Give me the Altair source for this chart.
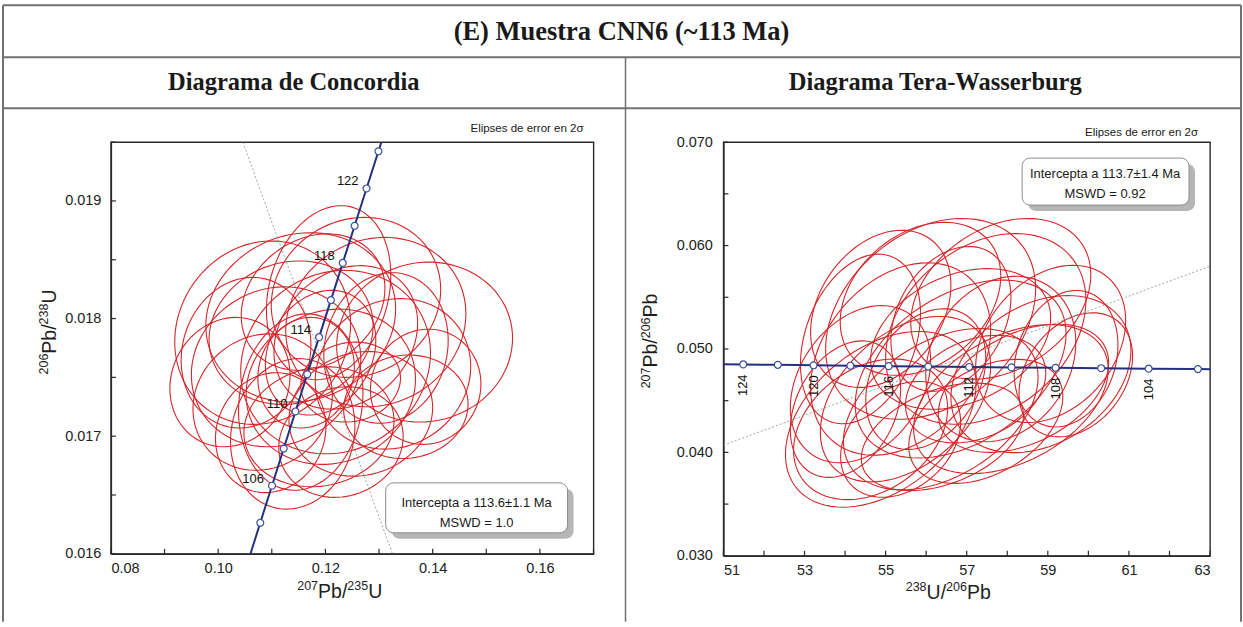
import altair as alt
import numpy as np
import pandas as pd

# ---------------- Concordia (Wetherill) panel ----------------
conc_age = [102, 104, 106, 108, 110, 112, 114, 116, 118, 120, 122, 124, 126]
conc_x = [0.105674, 0.107854, 0.110038, 0.112226, 0.114419, 0.116617, 0.118818,
          0.121024, 0.123234, 0.125449, 0.127668, 0.129891, 0.132119]
conc_y = [0.015949, 0.016264, 0.016579, 0.016895, 0.017210, 0.017526, 0.017842,
          0.018157, 0.018473, 0.018789, 0.019106, 0.019422, 0.019738]
conc_marker_ages = [104, 106, 108, 110, 112, 114, 116, 118, 120, 122, 124]
conc_label_ages = [106, 110, 114, 118, 122]
disc_L_x = [0.1046, 0.1325]
disc_L_y = [0.0195, 0.0160]
ticks_xL = [0.08, 0.09, 0.10, 0.11, 0.12, 0.13, 0.14, 0.15, 0.16, 0.17]
ticks_yL = [0.016, 0.0165, 0.017, 0.0175, 0.018, 0.0185, 0.019, 0.0195]

# error ellipses (centre, 2-sigma half widths, correlation)
L_cx = [0.1083, 0.1385, 0.1206, 0.1139, 0.1154, 0.1294, 0.1238, 0.1108, 0.1326, 0.1210,
        0.1083, 0.1266, 0.1191, 0.1154, 0.1313, 0.1177, 0.1257, 0.1052, 0.1229, 0.1350,
        0.1188, 0.1136, 0.1098, 0.1387, 0.1219, 0.1164, 0.1247, 0.1022]
L_cy = [0.01788, 0.01780, 0.01822, 0.01702, 0.01801, 0.01797, 0.01784, 0.01759, 0.01753, 0.01742,
        0.01729, 0.01719, 0.01771, 0.01729, 0.01775, 0.01814, 0.01818, 0.01771, 0.01695, 0.01725,
        0.01708, 0.01788, 0.01703, 0.01742, 0.01763, 0.01754, 0.01746, 0.01746]
L_sx = [0.0164, 0.0164, 0.0116, 0.0116, 0.0177, 0.0168, 0.0134, 0.0158, 0.0145, 0.0158,
        0.0130, 0.0134, 0.0103, 0.0116, 0.0116, 0.0134, 0.0158, 0.0121, 0.0116, 0.0116,
        0.0140, 0.0153, 0.0103, 0.0103, 0.0177, 0.0090, 0.0093, 0.0112]
L_sy = [0.00078, 0.00068, 0.00074, 0.00064, 0.00072, 0.00072, 0.00061, 0.00068, 0.00064, 0.00066,
        0.00058, 0.00053, 0.00053, 0.00075, 0.00064, 0.00058, 0.00068, 0.00064, 0.00047, 0.00044,
        0.00051, 0.00061, 0.00051, 0.00049, 0.00078, 0.00047, 0.00034, 0.00055]
L_rho = [0.10, 0.05, 0.20, 0.10, 0.10, 0.10, 0.20, 0.10, 0.10, 0.10,
         0.10, 0.10, 0.20, 0.10, 0.10, 0.20, 0.10, 0.10, 0.10, 0.05,
         0.10, 0.10, 0.10, 0.05, 0.10, 0.10, 0.10, 0.10]

# ---------------- Tera-Wasserburg panel ----------------
tw_age = [100, 102, 104, 106, 108, 110, 112, 114, 116, 118, 120, 122, 124, 126]
tw_x = [63.966, 62.701, 61.486, 60.316, 59.191, 58.105, 57.059, 56.049, 55.074,
        54.132, 53.222, 52.341, 51.489, 50.664]
tw_y = [0.048015, 0.048055, 0.048096, 0.048137, 0.048178, 0.048218, 0.048259, 0.048300,
        0.048341, 0.048382, 0.048423, 0.048465, 0.048506, 0.048548]
tw_marker_ages = [102, 104, 106, 108, 110, 112, 114, 116, 118, 120, 122, 124]
tw_label_ages = [104, 108, 112, 116, 120, 124]
disc_R_x = [51.0, 63.0]
disc_R_y = [0.0407, 0.0580]
ticks_xR = [51, 52, 53, 54, 55, 56, 57, 58, 59, 60, 61, 62, 63]
ticks_yR = [0.030, 0.035, 0.040, 0.045, 0.050, 0.055, 0.060, 0.065, 0.070]

R_cx = [56.11, 57.47, 54.88, 58.83, 56.85, 55.37, 58.09, 54.38, 56.36, 55.86,
        57.84, 54.63, 56.85, 59.07, 55.49, 57.47, 54.38, 58.40, 56.40, 54.88,
        55.99, 59.69, 57.22, 54.01, 57.84, 55.37, 59.45, 56.61]
R_cy = [0.05291, 0.05194, 0.04320, 0.04757, 0.04806, 0.04903, 0.04515, 0.04660, 0.04418, 0.05485,
        0.04903, 0.04223, 0.05097, 0.05049, 0.04515, 0.04300, 0.05097, 0.04620, 0.04150, 0.05388,
        0.04709, 0.04750, 0.04612, 0.04418, 0.05485, 0.04126, 0.04906, 0.05291]
R_sx = [2.59, 2.47, 2.35, 2.22, 2.60, 2.22, 2.40, 1.73, 2.40, 1.98,
        1.85, 1.90, 2.22, 1.85, 2.10, 1.90, 1.48, 2.10, 2.00, 1.73,
        1.48, 1.40, 1.73, 1.36, 2.22, 1.48, 1.28, 1.48]
R_sy = [0.00971, 0.00922, 0.00850, 0.00760, 0.00860, 0.00930, 0.00720, 0.00760, 0.00780, 0.00740,
        0.00800, 0.00680, 0.00680, 0.00760, 0.00800, 0.00600, 0.00820, 0.00620, 0.00520, 0.00760,
        0.00680, 0.00600, 0.00520, 0.00660, 0.00777, 0.00560, 0.00660, 0.00700]
R_rho = [0.30, 0.30, 0.40, 0.30, 0.40, 0.30, 0.40, 0.30, 0.40, 0.30,
         0.20, 0.30, 0.30, 0.30, 0.40, 0.40, 0.30, 0.40, 0.40, 0.30,
         0.30, 0.30, 0.30, 0.30, 0.30, 0.30, 0.20, 0.30]

# ---------------- helpers ----------------
RED = "#d42629"
NAVY = "#22307e"
MARK_STROKE = "#3b4f9b"
SANS = "Liberation Sans"
SERIF = "Liberation Serif"
BORDER = "#727272"
AX = "#2a2a2a"
# Arial-compatible advance widths (em) for composing axis titles with superscripts
ADV = {"0": 0.556, "1": 0.556, "2": 0.556, "3": 0.556, "4": 0.556, "5": 0.556, "6": 0.556,
       "7": 0.556, "8": 0.556, "9": 0.556, "P": 0.667, "b": 0.556, "/": 0.278, "U": 0.722}


def ellipses(cx, cy, sx, sy, rho, n=90):
    t = np.linspace(0, 2 * np.pi, n)
    rows = []
    for i, (a, b, c, d, r) in enumerate(zip(cx, cy, sx, sy, rho)):
        xs = a + c * np.cos(t)
        ys = b + d * (r * np.cos(t) + np.sqrt(1 - r * r) * np.sin(t))
        for k in range(n):
            rows.append({"id": i, "k": k, "x": float(xs[k]), "y": float(ys[k])})
    return pd.DataFrame(rows)


one = pd.DataFrame({"a": [0]})


def hline(x1, x2, y, color=BORDER, w=2):
    return alt.Chart(one).mark_rule(color=color, strokeWidth=w).encode(
        x=alt.value(x1), x2=alt.value(x2), y=alt.value(y))


def vline(x, y1, y2, color=BORDER, w=2):
    return alt.Chart(one).mark_rule(color=color, strokeWidth=w).encode(
        x=alt.value(x), y=alt.value(y1), y2=alt.value(y2))


def label(text, x, y, size, font=SANS, weight="normal", align="center", color="#1a1a1a"):
    return alt.Chart(one).mark_text(text=text, font=font, fontSize=size, fontWeight=weight,
                                    align=align, baseline="middle", color=color).encode(
        x=alt.value(x), y=alt.value(y))


def rich_title(parts, x, y, angle=0, main=19.5, sup=12.5, rise=7.5):
    widths = [sum(ADV[c] for c in s) * (sup if is_sup else main) for s, is_sup in parts]
    pos = -sum(widths) / 2.0
    layers = []
    for (s, is_sup), w in zip(parts, widths):
        layers.append(alt.Chart(one).mark_text(
            text=s, font=SANS, fontSize=sup if is_sup else main, align="left",
            baseline="alphabetic", angle=angle, dx=pos, dy=-rise if is_sup else 0,
            color="#1e1e1e").encode(x=alt.value(x), y=alt.value(y)))
        pos += w
    return layers


def info_box(x1, x2, y1, y2, lines, cx, ys):
    shadow = alt.Chart(one).mark_rect(fill="#a9a9a9", cornerRadius=8, opacity=0.85).encode(
        x=alt.value(x1 + 6), x2=alt.value(x2 + 6), y=alt.value(y1 + 6), y2=alt.value(y2 + 6))
    box = alt.Chart(one).mark_rect(fill="white", stroke="#8a8a8a", strokeWidth=1,
                                   cornerRadius=8).encode(
        x=alt.value(x1), x2=alt.value(x2), y=alt.value(y1), y2=alt.value(y2))
    texts = [label(t, cx, yy, 13) for t, yy in zip(lines, ys)]
    return [shadow, box] + texts


def inner_ticks(xvals, yvals, h, length=5):
    tx = alt.Chart(pd.DataFrame({"v": xvals})).mark_rule(color=AX, strokeWidth=1.2).encode(
        x="v:Q", y=alt.value(h), y2=alt.value(h - length))
    ty = alt.Chart(pd.DataFrame({"v": yvals})).mark_rule(color=AX, strokeWidth=1.2).encode(
        y="v:Q", x=alt.value(0), x2=alt.value(length))
    return [tx, ty]


# ---------------- left panel ----------------
W_L, H = 483, 412
xL = alt.Scale(domain=[0.08, 0.17], nice=False, zero=False)
yL = alt.Scale(domain=[0.016, 0.0195], nice=False, zero=False)

axis_xL = alt.Axis(values=ticks_xL, ticks=False, tickSize=0, labelPadding=8,
                   labelExpr="round(datum.value*100) % 2 == 0 ? format(datum.value, '.2f') : ''",
                   title=None)
axis_yL = alt.Axis(values=ticks_yL, ticks=False, tickSize=0, labelPadding=10,
                   labelExpr="round(datum.value*2000) % 2 == 0 ? format(datum.value, '.3f') : ''",
                   title=None)

ellL = ellipses(L_cx, L_cy, L_sx, L_sy, L_rho)
concL = pd.DataFrame({"age": conc_age, "x": conc_x, "y": conc_y})
markL = concL[concL.age.isin(conc_marker_ages)]
labL = concL[concL.age.isin(conc_label_ages)]
discL = pd.DataFrame({"x": disc_L_x, "y": disc_L_y})

ell_left = alt.Chart(ellL).mark_line(color=RED, strokeWidth=1.1, clip=True).encode(
    x=alt.X("x:Q", scale=xL, axis=axis_xL),
    y=alt.Y("y:Q", scale=yL, axis=axis_yL),
    detail="id:N", order="k:Q")
disc_left = alt.Chart(discL).mark_line(color="#8c8c8c", strokeWidth=0.8,
                                       strokeDash=[2, 2], clip=True).encode(x="x:Q", y="y:Q")
conc_left = alt.Chart(concL).mark_line(color=NAVY, strokeWidth=2, clip=True).encode(
    x="x:Q", y="y:Q", order="age:Q")
mark_left = alt.Chart(markL).mark_circle(size=48, fill="white", stroke=MARK_STROKE,
                                         strokeWidth=1.2, opacity=1).encode(x="x:Q", y="y:Q")
lab_left = alt.Chart(labL).mark_text(align="right", baseline="middle", dx=-8, dy=-7,
                                     fontSize=13, font=SANS, color="#111").encode(
    x="x:Q", y="y:Q", text="age:Q")

# page frame (table) drawn from left panel; origin = left plot's top-left corner
frame = [
    hline(-108, 1131, -137), hline(-108, 1131, -85), hline(-108, 1131, -34),
    vline(-108, -137, 480), vline(1131, -137, 480), vline(515, -85, 480, w=1.5),
    label("(E) Muestra CNN6 (~113 Ma)", 511, -110, 26.5, font=SERIF, weight="bold"),
    label("Diagrama de Concordia", 183, -59, 24.5, font=SERIF, weight="bold"),
    label("Elipses de error en 2σ", 473, -13, 11.5, align="right"),
]

left = alt.layer(
    *frame, ell_left, disc_left, conc_left, mark_left, lab_left,
    *inner_ticks(ticks_xL, ticks_yL, H),
    *rich_title([("207", True), ("Pb/", False), ("235", True), ("U", False)], 229, 456),
    *rich_title([("206", True), ("Pb/", False), ("238", True), ("U", False)], -55, 190, angle=270),
    *info_box(275, 457, 341, 391, ["Intercepta a 113.6±1.1 Ma", "MSWD = 1.0"], 366, [361, 381]),
).properties(width=W_L, height=H)

# ---------------- right panel ----------------
W_R, H_R = 487, 414
xR = alt.Scale(domain=[51, 63], nice=False, zero=False)
yR = alt.Scale(domain=[0.030, 0.070], nice=False, zero=False)
axis_xR = alt.Axis(values=ticks_xR, ticks=False, tickSize=0, labelPadding=8,
                   labelExpr="round(datum.value) % 2 == 1 ? format(datum.value, 'd') : ''",
                   title=None)
axis_yR = alt.Axis(values=ticks_yR, ticks=False, tickSize=0, labelPadding=11,
                   labelExpr="round(datum.value*200) % 2 == 0 ? format(datum.value, '.3f') : ''",
                   title=None)

ellR = ellipses(R_cx, R_cy, R_sx, R_sy, R_rho)
twR = pd.DataFrame({"age": tw_age, "x": tw_x, "y": tw_y})
markR = twR[twR.age.isin(tw_marker_ages)]
labR = twR[twR.age.isin(tw_label_ages)]
discR = pd.DataFrame({"x": disc_R_x, "y": disc_R_y})

ell_right = alt.Chart(ellR).mark_line(color=RED, strokeWidth=1.1, clip=True).encode(
    x=alt.X("x:Q", scale=xR, axis=axis_xR),
    y=alt.Y("y:Q", scale=yR, axis=axis_yR),
    detail="id:N", order="k:Q")
disc_right = alt.Chart(discR).mark_line(color="#8c8c8c", strokeWidth=0.8,
                                        strokeDash=[2, 2], clip=True).encode(x="x:Q", y="y:Q")
conc_right = alt.Chart(twR).mark_line(color=NAVY, strokeWidth=2, clip=True).encode(
    x="x:Q", y="y:Q", order="age:Q")
mark_right = alt.Chart(markR).mark_circle(size=48, fill="white", stroke=MARK_STROKE,
                                          strokeWidth=1.2, opacity=1).encode(x="x:Q", y="y:Q")
lab_right = alt.Chart(labR).mark_text(align="right", baseline="middle", angle=270, dx=-10,
                                      fontSize=13, font=SANS, color="#111").encode(
    x="x:Q", y="y:Q", text="age:Q")

right = alt.layer(
    label("Diagrama Tera-Wasserburg", 212, -59, 24.5, font=SERIF, weight="bold"),
    label("Elipses de error en 2σ", 475, -9, 11.5, align="right"),
    ell_right, disc_right, conc_right, mark_right, lab_right,
    *inner_ticks(ticks_xR, ticks_yR, H_R),
    *rich_title([("238", True), ("U/", False), ("206", True), ("Pb", False)], 225, 457),
    *rich_title([("207", True), ("Pb/", False), ("206", True), ("Pb", False)], -66, 199, angle=270),
    *info_box(299, 466, 16, 63, ["Intercepta a 113.7±1.4 Ma", "MSWD = 0.92"], 382, [32, 52]),
).properties(width=W_R, height=H_R)

chart = alt.hconcat(left, right, spacing=130, bounds="flush").properties(
    padding={"left": 1, "top": 3, "right": 0, "bottom": 0},
    background="white",
).configure_view(
    stroke=AX, strokeWidth=1.4
).configure_axis(
    labelFont=SANS, labelFontSize=14.5, domainColor=AX, domainWidth=1.4,
    labelColor="#222", grid=False
)

chart.save("out.html", embed_options={"renderer": "svg", "actions": False})
